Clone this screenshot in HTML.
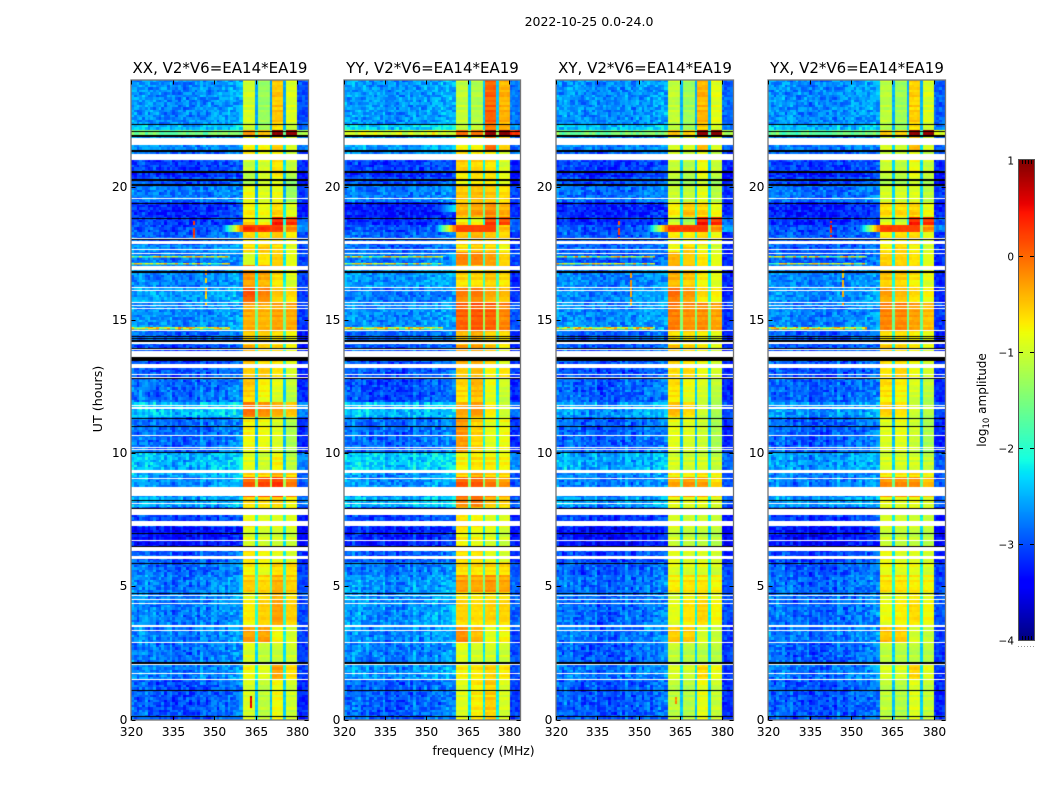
<!DOCTYPE html>
<html>
<head>
<meta charset="utf-8">
<title>2022-10-25 0.0-24.0</title>
<style>
html,body{margin:0;padding:0;background:#fff;}
#figure{position:relative;width:1050px;height:800px;overflow:hidden;background:#fff;font-family:"DejaVu Sans",sans-serif;}
canvas{position:absolute;display:block;}
svg{position:absolute;left:0;top:0;}
svg text{font-family:"DejaVu Sans",sans-serif;fill:#000;}
</style>
</head>
<body>
<div id="figure">
<svg id="overlay" width="1050" height="800">
<text x="589" y="26" font-size="12.5" text-anchor="middle">2022-10-25 0.0-24.0</text>
<text x="483.5" y="755" font-size="12.4" text-anchor="middle">frequency (MHz)</text>
<text x="0" y="0" font-size="12.7" text-anchor="middle" transform="translate(102,399) rotate(-90)">UT (hours)</text>
<text x="0" y="0" font-size="12" text-anchor="middle" transform="translate(986,400) rotate(-90)">log<tspan font-size="8.5" dy="3">10</tspan><tspan dy="-3"> amplitude</tspan></text>
</svg>
</div>
<script>
// ---- Axis data ----
const panelTitles = ["XX, V2*V6=EA14*EA19","YY, V2*V6=EA14*EA19","XY, V2*V6=EA14*EA19","YX, V2*V6=EA14*EA19"];
const panelNames = ["xx","yy","xy","yx"];
const freqTicks = [320,335,350,365,380];
const utTicks = [0,5,10,15,20];
const cbarTicks = [1,0,-1,-2,-3,-4];
const cbarEdgeFractions = [0.2,0.4,0.6,0.8];

// ---- Receiver band edges (MHz) ----
const bandStart = [360.5,366,371,376];
const bandEnd = [365,370.3,375.2,380];

// ---- Lower UT edge of each time segment, top of plot downward ----
const segStart = [22.345,22.08,21.91,21.37,20.99,20.56,20.30,20.02,19.38,18.82,18.52,18.26,17.84,17.52,17.02,16.23,15.665,14.605,14.05,13.34,12.815,11.875,11.34,10.03,9.36,9.06,8.39,7.925,7.26,6.50,5.86,5.42,4.735,3.52,2.88,2.17,1.51,0];

// ---- log10 amplitude per segment: background, band 1-4, above-380 edge ----
const xxRows = [
[-2.7,-1.05,-1.4,-.5,-1,-3],[-2.5,-1.05,-1.3,-.6,-1.1,-2.9],[-1.6,-.3,-.5,.9,.9,-1.1],[-2.7,-.9,-.9,-.7,-1.1,-2.8],[-2.9,-.7,-.9,-.8,-1.1,-3.1],
[-3.1,-1.1,-1,-.7,-1.1,-3.2],[-3.2,-1.3,-1.1,-.8,-1.3,-3.3],[-3,-1.2,-1,-.9,-1.4,-3.3],[-2.8,-.9,-1,-.9,-1.4,-3.1],[-3.2,-.8,-.9,-.6,-1,-3.3],
[-3.1,-.7,-.9,.35,.25,-2.9],[-3,.25,.25,.15,-.2,-2.6],[-2.9,-.6,-.7,-.5,-.8,-3],[-2.7,-.7,-.5,-.7,-1,-3],[-2.8,-1.1,-.8,-.6,-1,-3],
[-2.75,-.25,-.35,-.7,-1,-3.1],[-2.6,.1,-.15,-.5,-.7,-3.1],[-2.7,-.35,-.4,-.3,-.35,-3.1],[-2.9,-.5,-.5,-.6,-.8,-3.3],[-3.1,-.4,-.6,-.6,-.9,-3.2],
[-3,-.6,-.65,-.8,-1.1,-3.2],[-2.9,-.55,-.85,-1,-1.2,-3.2],[-2.45,-.05,-.2,-.35,-.5,-2.7],[-2.9,-.85,-.9,-1,-1.3,-3.2],[-2.5,-1,-1.1,-.85,-1.2,-2.7],
[-2.6,-.6,-.7,-.4,-.7,-3],[-2.7,.05,.15,.25,-.1,-2.9],[-2.6,-.75,-.75,-.7,-.9,-2.8],[-3.1,-.8,-.9,-.9,-.9,-3.3],[-3.4,-1,-1.05,-1.05,-1.1,-3.4],
[-3,-.7,-.8,-.9,-1,-3.2],[-2.9,-.8,-.9,-.6,-.6,-3.1],[-2.8,-.55,-.6,-.4,-.55,-3],[-2.8,-.85,-.6,-.35,-.6,-3],[-2.8,-.25,-.25,-.8,-1,-3.1],
[-2.85,-1,-1.15,-1.1,-1.1,-3.1],[-2.8,-.85,-.95,-.3,-.7,-3.1],[-3,-1.05,-1.2,-.9,-1.1,-3.2]];
const yyRows = [
[-2.65,-1.15,-1.25,.05,-.4,-2.8],[-2.35,-1.1,-1.1,-.05,-.3,-2.7],[-1,-.1,-.1,.85,.9,.3],[-2.6,-.9,-.9,-.1,-.7,-2.9],[-2.7,-.65,-.75,-.75,-1,-2.8],
[-3.1,-.5,-.55,-.7,-1,-3.2],[-3.2,-.9,-.75,-.8,-1,-3.4],[-3,-.8,-.7,-.7,-.9,-3.3],[-2.8,-.5,-.45,-.5,-.7,-3.1],[-3.3,-.4,-.3,-.2,-.4,-3.2],
[-3.2,-.8,-.9,.2,.15,-2.9],[-3,-.1,-.1,-.05,-.5,-2.9],[-2.9,-.5,-.4,-.5,-.7,-3.2],[-2.9,-.75,-.55,-.6,-.9,-3.1],[-2.8,-.2,-.2,-.35,-.7,-3],
[-2.65,-.6,-.6,-.5,-.7,-3.2],[-2.8,-.15,-.1,-.35,-.45,-3.1],[-2.7,.05,.1,.05,-.15,-3],[-2.9,-.4,-.3,-.5,-.6,-3.2],[-3,-.3,-.3,-.5,-.9,-3.2],
[-3,-.6,-.5,-.9,-.8,-3.1],[-3.05,-.7,-.45,-.95,-1.1,-3.2],[-2.5,-.35,-.25,-.8,-1.1,-2.8],[-2.9,-.25,-.65,-.95,-.9,-3.2],[-2.4,-.85,-.75,-.8,-.85,-2.7],
[-2.7,-.6,-.4,-.6,-.7,-3],[-2.7,.05,.05,-.1,-.25,-3],[-2.5,-.2,-.1,-.5,-.6,-2.9],[-3.1,-.65,-.75,-.9,-.9,-3.2],[-3.3,-.8,-.9,-1,-1.1,-3.3],
[-3,-.6,-.7,-.9,-1,-3.2],[-2.85,-.6,-.7,-.6,-.7,-3],[-2.7,-.3,-.35,-.25,-.35,-2.9],[-2.7,-.7,-.75,-.7,-.7,-2.9],[-2.75,-.15,-.4,-.9,-.8,-3],
[-2.8,-.95,-1.05,-1.05,-1.1,-3],[-2.7,-.8,-.75,-.55,-.75,-3],[-2.95,-1,-.8,-.55,-1.05,-3.1]];
const xyRows = [
[-2.7,-1.15,-1.35,-.4,-.95,-2.9],[-2.45,-1.15,-1.3,-.5,-1,-2.8],[-1.6,-.5,-.6,.9,.9,-1.2],[-2.75,-1.1,-1.1,-.5,-1.1,-2.9],[-2.9,-1,-1.1,-.9,-1.2,-3],
[-3.1,-1.1,-1.2,-.85,-1.1,-3.2],[-3.2,-1.2,-1.3,-.95,-1.2,-3.3],[-3,-1.2,-1.3,-1,-1.3,-3.3],[-2.85,-1.1,-1.15,-.95,-1.2,-3.1],[-3.25,-.8,-.5,-.6,-.9,-3.2],
[-3.2,-1.1,-1.3,.4,.3,-2.9],[-3,.15,.15,.15,-.25,-2.6],[-2.95,-.8,-.8,-.6,-.9,-3.2],[-2.9,-.9,-.65,-.9,-1.1,-3.2],[-2.95,-.45,-.6,-.8,-1,-3.2],
[-2.75,-.4,-.5,-.8,-.95,-3.2],[-2.7,-.05,-.25,-.7,-.8,-3.2],[-2.7,-.1,-.2,-.2,-.3,-3.1],[-2.95,-.6,-.6,-.75,-.9,-3.3],[-3,-.5,-.6,-.8,-1,-3.2],
[-3.05,-.75,-.75,-.95,-1.1,-3.2],[-2.95,-.75,-.95,-1.05,-1.2,-3.2],[-2.65,-.45,-.7,-1.1,-1.3,-3],[-2.95,-.95,-1,-1.1,-1.3,-3.2],[-2.6,-1.05,-1.1,-1.05,-1.15,-2.9],
[-2.75,-.85,-.85,-.75,-.9,-3],[-2.8,-.35,-.25,-.3,-.6,-3],[-2.65,-.95,-1,-.95,-1.05,-2.9],[-3.15,-.95,-1,-1,-1.05,-3.3],[-3.4,-1.1,-1.15,-1.15,-1.2,-3.4],
[-3.1,-.9,-.95,-.95,-1,-3.2],[-3,-.95,-1,-.95,-1.05,-3.1],[-2.9,-.8,-.75,-.75,-.85,-3],[-2.9,-1,-.8,-.7,-.9,-3],[-2.85,-.5,-.5,-1,-1.1,-3.1],
[-2.95,-1.15,-1.2,-1.2,-1.2,-3.1],[-2.85,-1,-1.05,-.6,-.9,-3.1],[-3,-1.2,-1.25,-.95,-1.15,-3.2]];
const yxRows = [
[-2.7,-1.2,-1.35,-.55,-1,-2.9],[-2.5,-1.2,-1.35,-.6,-1.05,-2.8],[-1.7,-.55,-.7,.9,.9,-1],[-2.8,-1.1,-1.15,-.5,-1.1,-2.9],[-2.9,-1.1,-1.1,-.9,-1.2,-3],
[-3.1,-1.05,-1.15,-.85,-1.1,-3.2],[-3.25,-1.2,-1.25,-.95,-1.2,-3.3],[-3.05,-1.2,-1.25,-1,-1.25,-3.3],[-2.85,-1.05,-1.05,-1,-1.2,-3.1],[-3.25,-.7,-.7,-.65,-.9,-3.2],
[-3.2,-1,-1.1,.35,.3,-2.9],[-3,.15,.1,.1,-.25,-2.7],[-2.95,-.8,-.7,-.7,-.95,-3.2],[-2.95,-.8,-.6,-.85,-1.05,-3.2],[-2.95,-.6,-.7,-.8,-1,-3.2],
[-2.75,-.5,-.55,-.75,-.95,-3.2],[-2.7,-.3,-.45,-.7,-.85,-3.2],[-2.75,-.15,-.15,-.3,-.45,-3.1],[-2.95,-.6,-.6,-.75,-.85,-3.3],[-3,-.55,-.6,-.8,-1,-3.2],
[-3.05,-.8,-.7,-.95,-1.1,-3.2],[-2.95,-.75,-.85,-1.05,-1.2,-3.2],[-2.7,-.55,-.75,-1.1,-1.25,-3],[-2.95,-1,-.95,-1.1,-1.3,-3.2],[-2.65,-1.05,-1.05,-1.05,-1.15,-2.9],
[-2.8,-.85,-.8,-.75,-.9,-3],[-2.8,-.2,-.2,-.2,-.45,-3],[-2.65,-.95,-1,-.95,-1.05,-2.9],[-3.15,-.95,-1,-1,-1.05,-3.3],[-3.4,-1.1,-1.15,-1.15,-1.2,-3.4],
[-3.1,-.85,-.95,-.95,-1,-3.2],[-3,-.9,-.95,-.9,-1,-3.1],[-2.9,-.75,-.75,-.8,-.85,-3],[-2.9,-.95,-.85,-.75,-.9,-3],[-2.85,-.45,-.5,-1,-1.1,-3.1],
[-2.95,-1.15,-1.2,-1.2,-1.2,-3.1],[-2.85,-1,-1,-.65,-.95,-3.1],[-3,-1.2,-1.25,-1,-1.15,-3.2]];
const rowsByPanel = [xxRows,yyRows,xyRows,yxRows];

// ---- Background offset per 5 MHz, 320 MHz upward ----
const bgTilt = [.05,.02,-.03,-.05,-.03,0,.05,.12,.35];
// ---- Vertical streaks in the background, one per MHz from 320 ----
const bgStripes = [.1,.02,-.05,.12,.05,.15,-.03,.02,.08,-.08,.03,.12,-.02,.06,.14,-.06,-.02,.04,.09,-.04,.02,-.07,.05,.1,-.03,.16,.07,-.05,.01,.1,.04,-.06,.08,.12,-.02,.05,.03,.09,.06,.1];
// ---- Hand-typed receiver-noise texture tiled over the cells ----
const speckle = [.22,-.31,.08,.34,-.12,-.27,.17,.03,-.35,.29,-.06,.13,-.22,.31,-.17,.05,.26,-.33,-.02,.19,-.25,.1,.35,-.09,-.29,.15,.24,-.14,.01,-.32,.28,.07,-.2,.33,-.04,-.24,.12,.21,-.3,.16,-.11,.3,-.18,.04,.25,-.34,.09];

// ---- Broadband flares: top UT, bottom UT, ramp start MHz, end MHz, peak, panels ----
const plumeTop = [18.52,19.3,21.93];
const plumeBottom = [18.26,19.0,21.91];
const plumeFrom = [353,353,320];
const plumeTo = [375,360.5,360.5];
const plumePeak = [.2,-2.1,.15];
const plumePanels = [[0,1,2,3],[1],[1]];

// ---- Horizontal interference traces ----
const rfiUT = [14.74,14.69,17.38,17.12];
const rfiFrom = [320,320,320,320];
const rfiTo = [356,356,356,356];
const rfiLevel = [-.9,-1.05,-1.1,-1.15];

// ---- Short vertical interference ----
const spurPanel = [0,0,0,2,2,2,3,3];
const spurMHz = [342.4,346.7,363,342.4,346.7,363,342.4,346.7];
const spurTop = [18.7,16.9,.85,18.7,16.9,.85,18.7,16.9];
const spurBottom = [18,15.5,.35,18,15.5,.5,18,15.5];
const spurLevel = [0,-.5,.4,.2,-.5,-.2,.2,-.4];

// ---- Flagged (white) data: upper UT edge and duration in hours ----
const whiteUT = [21.82,21.22,19.57,18.07,17.955,17.655,17.52,17.02,16.23,16.135,15.665,15.57,15.46,14.615,14.165,13.9,13.83,13.34,12.98,12.85,11.8,11.71,10.69,10.24,10.15,9.36,9.06,8.725,8.14,7.9,7.45,6.735,6.47,6.135,4.67,4.52,4.39,3.545,3.36,2.91,2.08,1.745,1.52];
const whiteHours = [.263,.225,.04,.04,.11,.04,.04,.15,.04,.04,.04,.04,.04,.04,.075,.04,.225,.15,.04,.04,.04,.04,.04,.04,.04,.11,.04,.34,.04,.215,.19,.04,.15,.11,.04,.04,.04,.055,.055,.04,.04,.04,.04];
// ---- Zero-amplitude (black) data ----
const blackUT = [22.345,22.08,21.93,21.37,20.58,20.3,20.09,19.38,18.82,18.03,16.83,14.39,14.315,14.24,13.94,13.6,12.815,11.33,11.01,10.04,8.235,7.935,7,6.51,5.87,4.745,2.16,1.11,.15];
const blackHours = [.04,.04,.055,.075,.055,.075,.075,.04,.055,.04,.075,.04,.04,.075,.04,.15,.04,.04,.04,.04,.04,.04,.04,.04,.04,.04,.075,.04,.04];

// ---- Axis functions ----
const panelLeft0 = 131.3, panelStep = 212.3, panelWidth = 176.7, plotTop = 80, plotBottom = 719.5;
const mhzMin = 320, mhzMax = 384, utMax = 24, cbarMin = -4, cbarMax = 1;
const cbarTop = 160, cbarBottom = 640, cbarLeft = 1019, cbarRight = 1034;
function xPos(mhz){ return (mhz-mhzMin)/(mhzMax-mhzMin)*panelWidth; }
function yPos(ut){ return (1-ut/utMax)*(plotBottom-plotTop); }
function cbarY(v){ return cbarBottom-(v-cbarMin)/(cbarMax-cbarMin)*(cbarBottom-cbarTop); }

function jet(v){
  const t=Math.max(0,Math.min(1,(v-cbarMin)/(cbarMax-cbarMin)));
  const r = t<.35?0:t<.66?(t-.35)/.31:t<.89?1:1-(t-.89)/.11*.5;
  const g = t<.125?0:t<.375?(t-.125)/.25:t<.64?1:t<.91?1-(t-.64)/.27:0;
  const b = t<.11?.5+t/.11*.5:t<.34?1:t<.65?1-(t-.34)/.31:0;
  return "rgb("+Math.round(r*255)+","+Math.round(g*255)+","+Math.round(b*255)+")";
}
function segmentIndex(ut){
  for(let s=0;s<segStart.length;s++){ if(ut>=segStart[s]) return s; }
  return segStart.length-1;
}
function bandIndex(mhz){
  for(let b=0;b<bandStart.length;b++){ if(mhz>=bandStart[b]&&mhz<bandEnd[b]) return b; }
  return -1;
}
function cellNoise(i,j,p){
  const shiftA=Math.round((speckle[(j*3+p*11)%speckle.length]+.35)*67);
  const shiftB=Math.round((speckle[(j*19+p*5)%speckle.length]+.35)*53);
  const a=speckle[(i*7+shiftA)%speckle.length];
  const b=speckle[(i*23+shiftB)%speckle.length];
  return a*.85+b*.4;
}
function cellLevel(p,mhz,ut,i,j){
  const row = rowsByPanel[p][segmentIndex(ut)];
  const noise = cellNoise(i,j,p);
  const rowNoise = speckle[(j*5)%speckle.length];
  let level;
  const b = bandIndex(mhz);
  if(b>=0){
    const value=row[b+1];
    level = value+(value<-.6?.08:0)+noise*.14+rowNoise*.32;
  } else if(mhz>=380){
    level = row[5]+noise*.6;
  } else if(mhz>=bandStart[0]){
    const neighbour = Math.min(row[1],row[2],row[3],row[4]);
    level = neighbour-1.15+noise*.2;
  } else {
    const stripe=bgStripes[Math.floor(mhz-320)];
    level = row[0]+bgTilt[Math.floor((mhz-320)/5)]+(ut<14?stripe*1.3:stripe*.4)+noise*.8;
  }
  for(let k=0;k<plumeTop.length;k++){
    if(plumePanels[k].indexOf(p)<0||ut>plumeTop[k]||ut<plumeBottom[k]||mhz<plumeFrom[k]||mhz>plumeTo[k]) continue;
    const ramp = mhz<bandStart[0]?(mhz-plumeFrom[k])/(bandStart[0]-plumeFrom[k]):1;
    const base = row[0];
    level = Math.max(level,base+(plumePeak[k]-base)*ramp+noise*.08);
  }
  return level;
}

// ---- Draw panels ----
const figure = document.getElementById('figure');
const overlay = document.getElementById('overlay');
const SVGNS = "http://www.w3.org/2000/svg";
const nChannels = 128, nRows = 256;
function fillFlag(ctx,ut,hours){
  const y0=Math.round(yPos(ut));
  const y1=Math.max(y0+1,Math.round(yPos(ut-hours)));
  ctx.fillRect(0,y0,Math.ceil(panelWidth),y1-y0);
}
function drawHeatmap(ctx,p){
  for(let j=0;j<nRows;j++){
    const ut1=utMax*(1-j/nRows), ut0=utMax*(1-(j+1)/nRows), utMid=(ut0+ut1)/2;
    const y0=Math.round(yPos(ut1)), y1=Math.round(yPos(ut0));
    for(let c=0;c<nChannels;c++){
      const m0=mhzMin+(mhzMax-mhzMin)*c/nChannels, m1=mhzMin+(mhzMax-mhzMin)*(c+1)/nChannels;
      const x0=Math.round(xPos(m0)), x1=Math.round(xPos(m1));
      ctx.fillStyle=jet(cellLevel(p,(m0+m1)/2,utMid,Math.floor(c/2),j));
      ctx.fillRect(x0,y0,x1-x0,y1-y0);
    }
  }
  for(let r=0;r<rfiUT.length;r++){
    const y=Math.round(yPos(rfiUT[r]));
    for(let m=rfiFrom[r];m<rfiTo[r];m++){
      const n=speckle[(m*7+r*13+p*5)%speckle.length];
      ctx.fillStyle=jet(rfiLevel[r]+n*2.6);
      ctx.fillRect(Math.round(xPos(m)),y,Math.round(xPos(m+1))-Math.round(xPos(m)),1.5);
    }
  }
  for(let s=0;s<spurPanel.length;s++){
    if(spurPanel[s]!==p) continue;
    const step=.09;
    for(let u=spurBottom[s],n=0;u<spurTop[s];u+=step,n++){
      const v=speckle[(n*11+s*7)%speckle.length];
      if(v<-.12) continue;
      ctx.fillStyle=jet(spurLevel[s]+v);
      ctx.fillRect(Math.round(xPos(spurMHz[s])),Math.round(yPos(u+step)),2,Math.max(1,Math.round(yPos(u))-Math.round(yPos(u+step))));
    }
  }
  ctx.fillStyle="#fff";
  for(let w=0;w<whiteUT.length;w++){ fillFlag(ctx,whiteUT[w],whiteHours[w]); }
  ctx.fillStyle="#000";
  for(let k=0;k<blackUT.length;k++){ fillFlag(ctx,blackUT[k],blackHours[k]); }
}
function addLine(x1,y1,x2,y2,stroke,name){
  const l=document.createElementNS(SVGNS,'line');
  l.setAttribute('x1',x1); l.setAttribute('y1',y1); l.setAttribute('x2',x2); l.setAttribute('y2',y2);
  l.setAttribute('stroke',stroke); l.setAttribute('stroke-width','1');
  
  
  overlay.appendChild(l);
  return l;
}
function addText(x,y,txt,size,anchor,name){
  const t=document.createElementNS(SVGNS,'text');
  t.setAttribute('x',x); t.setAttribute('y',y); t.setAttribute('font-size',size); t.setAttribute('text-anchor',anchor);
  
  
  t.textContent=txt;
  overlay.appendChild(t);
  return t;
}
panelTitles.forEach(function(title,p){
  const left=panelLeft0+panelStep*p;
  const cv=document.createElement('canvas');
  cv.width=Math.ceil(panelWidth); cv.height=Math.ceil(plotBottom-plotTop);
  cv.style.left=Math.round(left)+'px'; cv.style.top=plotTop+'px';
  
  
  figure.insertBefore(cv,overlay);
  drawHeatmap(cv.getContext('2d'),p);

  const L=Math.round(left)+.5, R=Math.round(left+panelWidth)+.5, T=plotTop+.5, B=plotBottom+.5;
  const frame=document.createElementNS(SVGNS,'rect');
  frame.setAttribute('x',L-.5); frame.setAttribute('y',T-.5); frame.setAttribute('width',R-L+.5); frame.setAttribute('height',B-T+.5);
  frame.setAttribute('fill','none'); frame.setAttribute('stroke','#777'); frame.setAttribute('stroke-width','1.3');
  
  
  overlay.appendChild(frame);

  addText((L+R)/2,73,title,15,'middle','panel-title-'+panelNames[p]);
  freqTicks.forEach(function(f){
    const x=Math.round(left+xPos(f))+.5;
    addLine(x,B,x,B-4,'#000','x-tick-'+f);
    addLine(x,T,x,T+4,'#000','x-tick-top-'+f);
    addText(x,736,String(f),12.3,'middle','x-tick-label-'+f);
  });
  utTicks.forEach(function(u){
    const y=Math.round(plotTop+yPos(u))+.5;
    addLine(L,y,L+4,y,'#000','y-tick-'+u);
    addLine(R,y,R-4,y,'#000','y-tick-right-'+u);
    addText(L-4,y+3.5,String(u),12.3,'end','y-tick-label-'+u);
  });
});

// ---- Colorbar ----
const cb=document.createElement('canvas');
cb.width=cbarRight-cbarLeft; cb.height=cbarBottom-cbarTop;
cb.style.left=cbarLeft+'px'; cb.style.top=cbarTop+'px';


figure.insertBefore(cb,overlay);
const cbCtx=cb.getContext('2d');
for(let y=0;y<cb.height;y++){
  cbCtx.fillStyle=jet(cbarMax-(y+.5)/cb.height*(cbarMax-cbarMin));
  cbCtx.fillRect(0,y,cb.width,1);
}
const cbFrame=document.createElementNS(SVGNS,'rect');
cbFrame.setAttribute('x',cbarLeft-.5); cbFrame.setAttribute('y',cbarTop-.5);
cbFrame.setAttribute('width',cbarRight-cbarLeft+1); cbFrame.setAttribute('height',cbarBottom-cbarTop+1);
cbFrame.setAttribute('fill','none'); cbFrame.setAttribute('stroke','#555'); cbFrame.setAttribute('stroke-width','1');


overlay.appendChild(cbFrame);
cbarTicks.forEach(function(v){
  const y=Math.round(cbarY(v))+.5;
  const shown=v<0?'\u2212'+Math.abs(v):String(v);
  addText(cbarLeft-5,y+4,shown,10.5,'end','colorbar-tick-label-'+v);
  if(v!==cbarMin&&v!==cbarMax){
    addLine(cbarLeft,y,cbarLeft+4,y,'#000','colorbar-tick-'+v);
    addLine(cbarRight,y,cbarRight-4,y,'#000','colorbar-tick-right-'+v);
  }
});
cbarEdgeFractions.forEach(function(fr,n){
  const x=Math.round(cbarLeft+fr*(cbarRight-cbarLeft))+.5;
  addLine(x,cbarTop,x,cbarTop+4,'#000','colorbar-edge-tick-top-'+n);
  addLine(x,cbarBottom,x,cbarBottom-4,'#000','colorbar-edge-tick-bottom-'+n);
});
const dots=addLine(cbarLeft-1,646.5,cbarRight,646.5,'#999','colorbar-edge-dots');
dots.setAttribute('stroke-dasharray','1 2');
</script>
</body>
</html>
